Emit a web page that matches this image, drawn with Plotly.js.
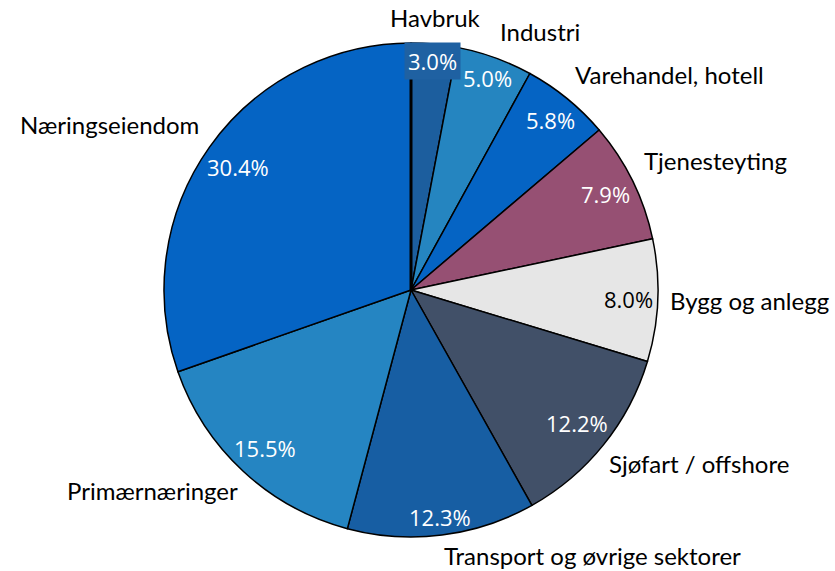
<!DOCTYPE html>
<html>
<head>
<meta charset="utf-8">
<script src="https://cdn.plot.ly/plotly-3.0.1.min.js"></script>
<style>html,body{margin:0;padding:0;background:#fff;}#chart{width:835px;height:571px;}</style>
</head>
<body>
<div id="chart"></div>
<script>
const categories = ["Havbruk","Industri","Varehandel, hotell","Tjenesteyting","Bygg og anlegg","Sjøfart / offshore","Transport og øvrige sektorer","Primærnæringer","Næringseiendom"];
const shares = [3.0, 5.0, 5.8, 7.9, 8.0, 12.2, 12.3, 15.5, 30.4];
const percentLabels = ["3.0%","5.0%","5.8%","7.9%","8.0%","12.2%","12.3%","15.5%","30.4%"];
const sliceColors = ["#1C5E9E","#2585C0","#0564C4","#965073","#E6E6E6","#415068","#175EA3","#2585C2","#0564C4"];
const pctColors = ["#fff","#fff","#fff","#fff","#000","#fff","#fff","#fff","#fff"];

const W = 835, H = 571;
const cx = 411, cy = 290, r = 247;
const domain = {x:[(cx-r)/W,(cx+r)/W], y:[(H-cy-r)/H,(H-cy+r)/H]};

const PCT_FONT = 'Open Sans', PCT_SIZE = 22;
const LBL_FONT = 'Lato', LBL_SIZE = 24;

const ctx = document.createElement('canvas').getContext('2d');
ctx.font = PCT_SIZE + "px '" + PCT_FONT + "'";

const total = shares.reduce((a,b)=>a+b,0);
const annotations = [];
let cum = 0;
shares.forEach((v,i)=>{
  const th = 2*Math.PI*(cum + v/2)/total;
  cum += v;
  const sx = Math.sin(th), cy_ = Math.cos(th);
  // percentage label: pushed outward along the mid-angle as far as it fits inside the slice edge
  const w = ctx.measureText(percentLabels[i]).width, h = PCT_SIZE*0.8, pad = 4;
  let d = 0;
  while (Math.hypot(Math.abs(sx)*(d+0.5) + w/2, Math.abs(cy_)*(d+0.5) + h/2) <= r - pad) d += 0.5;
  const small = v < 4;
  annotations.push({
    xref:'paper', yref:'paper', x:(cx + sx*d)/W, y:(H - cy + cy_*d)/H,
    xanchor:'center', yanchor:'middle', showarrow:false, text:percentLabels[i],
    font:{family:PCT_FONT, size:PCT_SIZE, color:pctColors[i]},
    bgcolor: small ? '#1F61A2' : 'rgba(0,0,0,0)', borderpad: small ? 3 : 1
  });
  // category label outside the pie
  const below = cy_ < -0.1;
  const g = below ? 4 : 10;
  annotations.push({
    xref:'paper', yref:'paper', x:(cx + sx*(r+g))/W, y:(H - cy + cy_*(r+g))/H,
    xanchor: sx > 0.1 ? 'left' : (sx < -0.1 ? 'right' : 'center'),
    yanchor: cy_ > 0.1 ? 'bottom' : (below ? 'top' : 'middle'),
    showarrow:false, text:categories[i],
    font:{family:LBL_FONT, size:LBL_SIZE, color:'#000'}
  });
});

const pie = {
  type:'pie', values:shares, labels:categories, sort:false, direction:'clockwise', rotation:0,
  domain:domain, textinfo:'none',
  marker:{colors:sliceColors, line:{color:'#000', width:1.5}},
  hoverinfo:'none', showlegend:false, automargin:false
};
Plotly.newPlot('chart',[pie],{
  width:W, height:H, margin:{l:0,r:0,t:0,b:0}, paper_bgcolor:'#fff', showlegend:false,
  annotations:annotations,
  shapes:[{type:'line', xref:'paper', yref:'paper', x0:cx/W, x1:cx/W, y0:(H-cy)/H, y1:(H-cy+r)/H,
           line:{color:'#000', width:3}}]
},{displayModeBar:false, staticPlot:true});
</script>
</body>
</html>
